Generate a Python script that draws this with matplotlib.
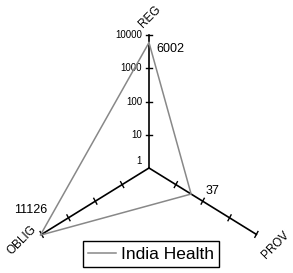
import numpy as np
import matplotlib
matplotlib.use("Agg")
import matplotlib.pyplot as plt

plt.rcParams['font.family'] = ['Liberation Sans', 'DejaVu Sans']

# data
axis_names = ['REG', 'PROV', 'OBLIG']
axis_angles = [90, -30, 210]   # degrees
values = [6002, 37, 11126]
series_name = 'India Health'
tick_values = [1, 10, 100, 1000, 10000]
tick_labels = ['1', '10', '100', '1000', '10000']

W, H = 293, 273
cx, cy = 149, 168          # centre in pixels (from top)
ux, uy = 31.0, 33.2        # pixels per decade in x / y

fig = plt.figure(figsize=(W / 100, H / 100), dpi=100)
ax = fig.add_axes([0, 0, 1, 1])
ax.set_xlim(-cx / ux, (W - cx) / ux)
ax.set_ylim(-(H - cy) / uy, cy / uy)
ax.axis('off')

th = np.radians(axis_angles)
rmax = np.log10(tick_values[-1])

# axes + ticks
for a in th:
    ax.plot([0, rmax * np.cos(a)], [0, rmax * np.sin(a)], color='black', lw=1.2, zorder=2)
    px, py = -np.sin(a), np.cos(a)
    for tv in tick_values[1:]:
        r = np.log10(tv)
        x, y = r * np.cos(a), r * np.sin(a)
        h = 0.1
        ax.plot([x - h * px, x + h * px], [y - h * py, y + h * py], color='black', lw=1.0, zorder=2)

# tick labels on REG axis
for tv, tl in zip(tick_values, tick_labels):
    r = np.log10(tv)
    yoff = 0.2 if tv == 1 else 0
    ax.text(-0.22, r + yoff, tl, ha='right', va='center', fontsize=7)

# data polygon
r_vals = np.log10(values)
xs = r_vals * np.cos(th)
ys = r_vals * np.sin(th)
line, = ax.plot(np.append(xs, xs[0]), np.append(ys, ys[0]), color='#888888', lw=1.1,
                zorder=3, label=series_name)

# value labels
val_off = [(0.7, -0.2), (0.7, 0.1), (-0.3, 0.75)]
for x, y, v, (dx, dy) in zip(xs, ys, values, val_off):
    ax.text(x + dx, y + dy, str(v), ha='center', va='center', fontsize=9)

# axis names
name_pos = [(150, 17), (276, 245), (22, 240)]
for n, (px_, py_) in zip(axis_names, name_pos):
    ax.text((px_ - cx) / ux, (cy - py_) / uy, n, rotation=45, ha='center', va='center', fontsize=8.5)

leg = fig.legend(handles=[line], loc='lower left', bbox_to_anchor=(83 / W, 6 / H),
                 borderaxespad=0, fontsize=12.5, frameon=True, fancybox=False,
                 edgecolor='black', framealpha=1, handlelength=1.6, handletextpad=0.3,
                 borderpad=0.3)
leg.get_frame().set_linewidth(1.0)

fig.savefig('out.png', dpi=100)
